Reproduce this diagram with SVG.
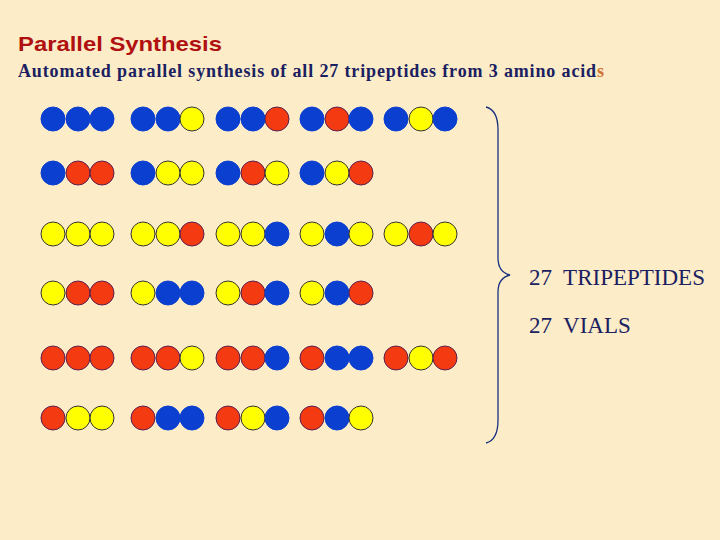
<svg xmlns="http://www.w3.org/2000/svg" width="720" height="540" viewBox="0 0 720 540">
<style>
.B{fill:#0a3fd0;stroke:#0a3fd0;stroke-width:1}
.R{fill:#f33a10;stroke:#5a2050;stroke-width:1}
.Y{fill:#ffff00;stroke:#333;stroke-width:1}
.t{font-family:"Liberation Serif",serif;font-size:23px;fill:#1a2060;white-space:pre}
</style>
<defs>
<circle id="c" r="12"/>
</defs>
<rect width="720" height="540" fill="#fcecc8"/>
<text x="18" y="51" font-family="Liberation Sans,sans-serif" font-size="21" font-weight="bold" fill="#b01010" textLength="204" lengthAdjust="spacingAndGlyphs">Parallel Synthesis</text>
<text x="18" y="77" font-family="Liberation Serif,serif" font-size="18" font-weight="bold" fill="#1a2060" textLength="586" lengthAdjust="spacing">Automated parallel synthesis of all 27 tripeptides from 3 amino acid<tspan fill="#d07030">s</tspan></text>
<g id="row1">
<g id="p1" transform="translate(53,119)"><use href="#c" class="B"/><use href="#c" x="25" class="B"/><use href="#c" x="49" class="B"/></g>
<g id="p2" transform="translate(143,119)"><use href="#c" class="B"/><use href="#c" x="25" class="B"/><use href="#c" x="49" class="Y"/></g>
<g id="p3" transform="translate(228,119)"><use href="#c" class="B"/><use href="#c" x="25" class="B"/><use href="#c" x="49" class="R"/></g>
<g id="p4" transform="translate(312,119)"><use href="#c" class="B"/><use href="#c" x="25" class="R"/><use href="#c" x="49" class="B"/></g>
<g id="p5" transform="translate(396,119)"><use href="#c" class="B"/><use href="#c" x="25" class="Y"/><use href="#c" x="49" class="B"/></g>
</g>
<g id="row2">
<g id="p6" transform="translate(53,173)"><use href="#c" class="B"/><use href="#c" x="25" class="R"/><use href="#c" x="49" class="R"/></g>
<g id="p7" transform="translate(143,173)"><use href="#c" class="B"/><use href="#c" x="25" class="Y"/><use href="#c" x="49" class="Y"/></g>
<g id="p8" transform="translate(228,173)"><use href="#c" class="B"/><use href="#c" x="25" class="R"/><use href="#c" x="49" class="Y"/></g>
<g id="p9" transform="translate(312,173)"><use href="#c" class="B"/><use href="#c" x="25" class="Y"/><use href="#c" x="49" class="R"/></g>
</g>
<g id="row3">
<g id="p10" transform="translate(53,234)"><use href="#c" class="Y"/><use href="#c" x="25" class="Y"/><use href="#c" x="49" class="Y"/></g>
<g id="p11" transform="translate(143,234)"><use href="#c" class="Y"/><use href="#c" x="25" class="Y"/><use href="#c" x="49" class="R"/></g>
<g id="p12" transform="translate(228,234)"><use href="#c" class="Y"/><use href="#c" x="25" class="Y"/><use href="#c" x="49" class="B"/></g>
<g id="p13" transform="translate(312,234)"><use href="#c" class="Y"/><use href="#c" x="25" class="B"/><use href="#c" x="49" class="Y"/></g>
<g id="p14" transform="translate(396,234)"><use href="#c" class="Y"/><use href="#c" x="25" class="R"/><use href="#c" x="49" class="Y"/></g>
</g>
<g id="row4">
<g id="p15" transform="translate(53,293)"><use href="#c" class="Y"/><use href="#c" x="25" class="R"/><use href="#c" x="49" class="R"/></g>
<g id="p16" transform="translate(143,293)"><use href="#c" class="Y"/><use href="#c" x="25" class="B"/><use href="#c" x="49" class="B"/></g>
<g id="p17" transform="translate(228,293)"><use href="#c" class="Y"/><use href="#c" x="25" class="R"/><use href="#c" x="49" class="B"/></g>
<g id="p18" transform="translate(312,293)"><use href="#c" class="Y"/><use href="#c" x="25" class="B"/><use href="#c" x="49" class="R"/></g>
</g>
<g id="row5">
<g id="p19" transform="translate(53,358)"><use href="#c" class="R"/><use href="#c" x="25" class="R"/><use href="#c" x="49" class="R"/></g>
<g id="p20" transform="translate(143,358)"><use href="#c" class="R"/><use href="#c" x="25" class="R"/><use href="#c" x="49" class="Y"/></g>
<g id="p21" transform="translate(228,358)"><use href="#c" class="R"/><use href="#c" x="25" class="R"/><use href="#c" x="49" class="B"/></g>
<g id="p22" transform="translate(312,358)"><use href="#c" class="R"/><use href="#c" x="25" class="B"/><use href="#c" x="49" class="B"/></g>
<g id="p23" transform="translate(396,358)"><use href="#c" class="R"/><use href="#c" x="25" class="Y"/><use href="#c" x="49" class="R"/></g>
</g>
<g id="row6">
<g id="p24" transform="translate(53,418)"><use href="#c" class="R"/><use href="#c" x="25" class="Y"/><use href="#c" x="49" class="Y"/></g>
<g id="p25" transform="translate(143,418)"><use href="#c" class="R"/><use href="#c" x="25" class="B"/><use href="#c" x="49" class="B"/></g>
<g id="p26" transform="translate(228,418)"><use href="#c" class="R"/><use href="#c" x="25" class="Y"/><use href="#c" x="49" class="B"/></g>
<g id="p27" transform="translate(312,418)"><use href="#c" class="R"/><use href="#c" x="25" class="B"/><use href="#c" x="49" class="Y"/></g>
</g>
<g id="brace">
<path d="M486,107 Q498,110 498,130 L498,258 Q498,272 510,275 Q498,278 498,292 L498,420 Q498,440 486,443" fill="none" stroke="#1a3080" stroke-width="1.3"/>
</g>
<g id="labels">
<text class="t" x="529" y="285">27  TRIPEPTIDES</text>
<text class="t" x="529" y="333">27  VIALS</text>
</g>
</svg>
